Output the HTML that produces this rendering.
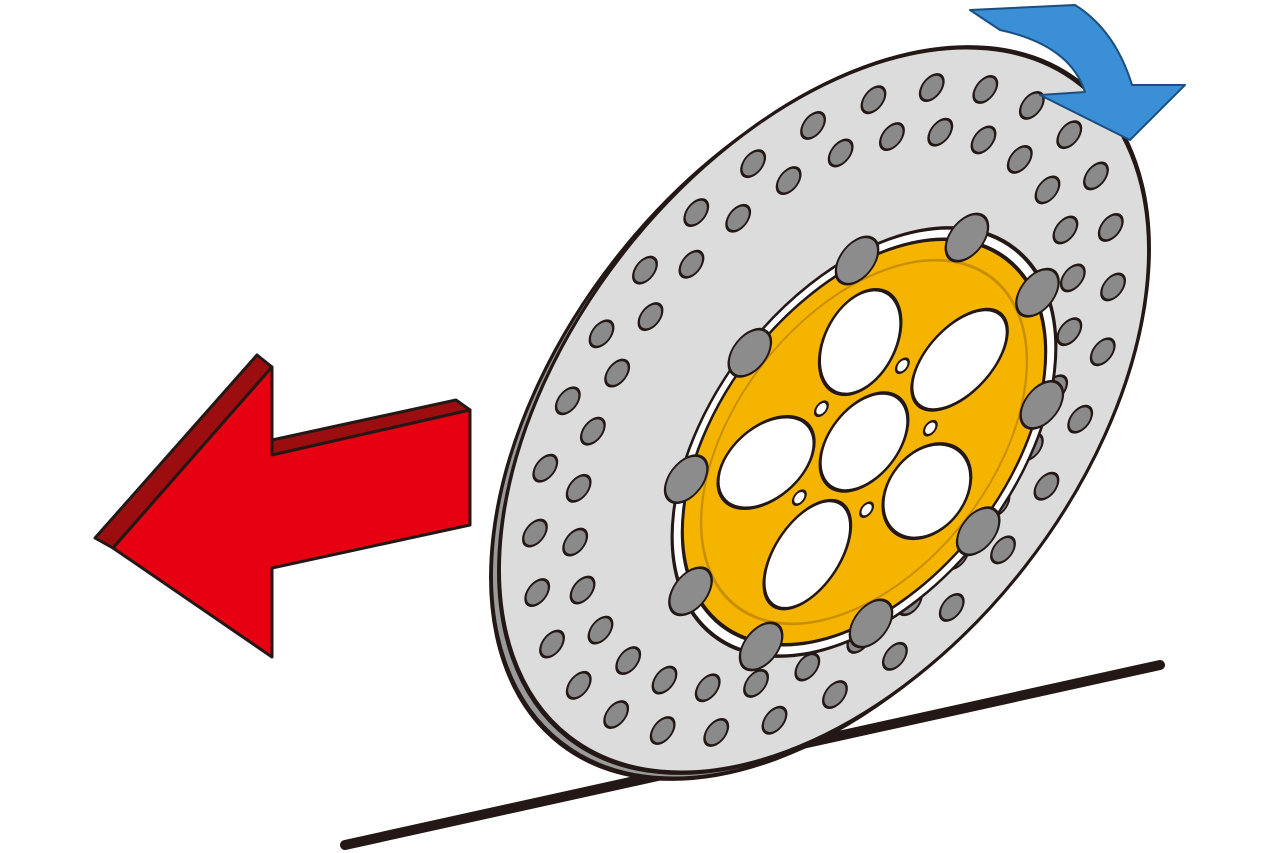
<!DOCTYPE html>
<html><head><meta charset="utf-8"><style>html,body{margin:0;padding:0;background:#fff;overflow:hidden}svg{display:block}</style></head>
<body>
<svg width="1280" height="853" viewBox="0 0 1280 853" xmlns="http://www.w3.org/2000/svg">
<line x1="345" y1="845" x2="1160" y2="665" stroke="#231815" stroke-width="10" stroke-linecap="round"/>
<polygon points="95,538 257,355 272,367 113,548" fill="#9c0d0f" stroke="#231815" stroke-width="3" stroke-linejoin="round"/>
<polygon points="272,440 272,455 470,410 456,400" fill="#9c0d0f" stroke="#231815" stroke-width="3" stroke-linejoin="round"/>
<polygon points="113,548 272,367 272,455 470,410 470,525 272,568 272,657" fill="#e60012" stroke="#231815" stroke-width="3" stroke-linejoin="round"/>
<g transform="translate(816,416) rotate(38) scale(0.614,1)">
<circle r="415" fill="#9a9a9a" stroke="#231815" stroke-width="5"/>
</g>
<g transform="translate(824,410) rotate(38) scale(0.614,1)" stroke="#231815">
<circle r="415" fill="#dcdcdc" stroke-width="5"/>
<g fill="#8a8a8a" stroke-width="3">
<circle cx="370" r="15" transform="rotate(0)"/><circle cx="370" r="15" transform="rotate(12)"/><circle cx="370" r="15" transform="rotate(24)"/><circle cx="370" r="15" transform="rotate(36)"/><circle cx="370" r="15" transform="rotate(48)"/><circle cx="370" r="15" transform="rotate(60)"/><circle cx="370" r="15" transform="rotate(72)"/><circle cx="370" r="15" transform="rotate(84)"/><circle cx="370" r="15" transform="rotate(96)"/><circle cx="370" r="15" transform="rotate(108)"/><circle cx="370" r="15" transform="rotate(120)"/><circle cx="370" r="15" transform="rotate(132)"/><circle cx="370" r="15" transform="rotate(144)"/><circle cx="370" r="15" transform="rotate(156)"/><circle cx="370" r="15" transform="rotate(168)"/><circle cx="370" r="15" transform="rotate(180)"/><circle cx="370" r="15" transform="rotate(192)"/><circle cx="370" r="15" transform="rotate(204)"/><circle cx="370" r="15" transform="rotate(216)"/><circle cx="370" r="15" transform="rotate(228)"/><circle cx="370" r="15" transform="rotate(240)"/><circle cx="370" r="15" transform="rotate(252)"/><circle cx="370" r="15" transform="rotate(264)"/><circle cx="370" r="15" transform="rotate(276)"/><circle cx="370" r="15" transform="rotate(288)"/><circle cx="370" r="15" transform="rotate(300)"/><circle cx="370" r="15" transform="rotate(312)"/><circle cx="370" r="15" transform="rotate(324)"/><circle cx="370" r="15" transform="rotate(336)"/><circle cx="370" r="15" transform="rotate(348)"/>
<circle cx="318" r="15" transform="rotate(6)"/><circle cx="318" r="15" transform="rotate(18)"/><circle cx="318" r="15" transform="rotate(30)"/><circle cx="318" r="15" transform="rotate(42)"/><circle cx="318" r="15" transform="rotate(54)"/><circle cx="318" r="15" transform="rotate(66)"/><circle cx="318" r="15" transform="rotate(78)"/><circle cx="318" r="15" transform="rotate(90)"/><circle cx="318" r="15" transform="rotate(102)"/><circle cx="318" r="15" transform="rotate(114)"/><circle cx="318" r="15" transform="rotate(126)"/><circle cx="318" r="15" transform="rotate(138)"/><circle cx="318" r="15" transform="rotate(150)"/><circle cx="318" r="15" transform="rotate(162)"/><circle cx="318" r="15" transform="rotate(174)"/><circle cx="318" r="15" transform="rotate(186)"/><circle cx="318" r="15" transform="rotate(198)"/><circle cx="318" r="15" transform="rotate(210)"/><circle cx="318" r="15" transform="rotate(222)"/><circle cx="318" r="15" transform="rotate(234)"/><circle cx="318" r="15" transform="rotate(246)"/><circle cx="318" r="15" transform="rotate(258)"/><circle cx="318" r="15" transform="rotate(270)"/><circle cx="318" r="15" transform="rotate(282)"/><circle cx="318" r="15" transform="rotate(294)"/><circle cx="318" r="15" transform="rotate(306)"/><circle cx="318" r="15" transform="rotate(318)"/><circle cx="318" r="15" transform="rotate(330)"/><circle cx="318" r="15" transform="rotate(342)"/><circle cx="318" r="15" transform="rotate(354)"/>
</g>
</g>
<g transform="translate(864,442) rotate(38) scale(0.614,1)" stroke="#231815">
<circle r="245" fill="#fff" stroke-width="4"/>
<circle r="232" fill="#f4b400" stroke-width="4"/>
<circle r="208" fill="none" stroke="#c98f00" stroke-width="3"/>
<g fill="#fff" stroke-width="4">
<ellipse cx="130" rx="62" ry="52" transform="rotate(0)"/>
<ellipse cx="130" rx="62" ry="52" transform="rotate(72)"/>
<ellipse cx="130" rx="62" ry="52" transform="rotate(144)"/>
<ellipse cx="130" rx="62" ry="52" transform="rotate(216)"/>
<ellipse cx="130" rx="62" ry="52" transform="rotate(288)"/>
<circle r="56"/>
</g>
<g fill="#fff" stroke-width="3">
<circle cx="88" r="8" transform="rotate(36)"/><circle cx="88" r="8" transform="rotate(108)"/><circle cx="88" r="8" transform="rotate(180)"/><circle cx="88" r="8" transform="rotate(252)"/><circle cx="88" r="8" transform="rotate(324)"/>
</g>
<g fill="#8c8c8c" stroke-width="3">
<circle cx="236" r="27" transform="rotate(0)"/><circle cx="236" r="27" transform="rotate(36)"/><circle cx="236" r="27" transform="rotate(72)"/><circle cx="236" r="27" transform="rotate(108)"/><circle cx="236" r="27" transform="rotate(144)"/><circle cx="236" r="27" transform="rotate(180)"/><circle cx="236" r="27" transform="rotate(216)"/><circle cx="236" r="27" transform="rotate(252)"/><circle cx="236" r="27" transform="rotate(288)"/><circle cx="236" r="27" transform="rotate(324)"/>
</g>
</g>
<path d="M970,10 L1075,5 Q1115,30 1132,85 L1185,85 L1130,140 L1040,95 L1085,92 Q1070,45 1000,30 Z" fill="#3a8fd6" stroke="#1b4f80" stroke-width="2" stroke-linejoin="round"/>
</svg>
</body></html>
